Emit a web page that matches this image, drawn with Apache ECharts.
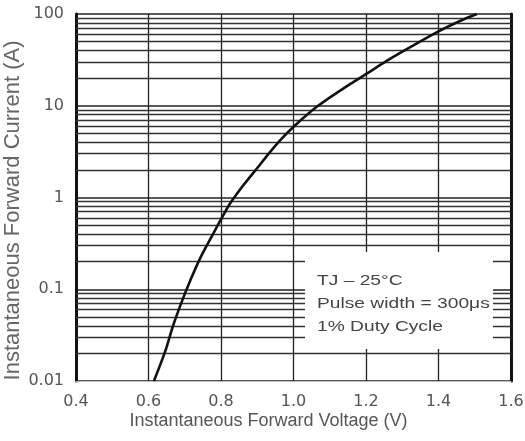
<!DOCTYPE html>
<html>
<head>
<meta charset="utf-8">
<script src="https://cdn.jsdelivr.net/npm/echarts@6/dist/echarts.min.js"></script>
<style>
	html,body{margin:0;padding:0;background:#fff;}
	#chart{width:525px;height:441px;}
</style>
</head>
<body>
<div id="chart"></div>
<script>
// curve
var voltage = [0.615, 0.646, 0.668, 0.695, 0.715, 0.742, 0.778, 0.806, 0.825, 0.861, 0.899, 0.930, 0.963, 1.004, 1.065, 1.137, 1.203, 1.258, 1.33, 1.40, 1.459, 1.506]
var current = [0.01, 0.021, 0.0403, 0.079, 0.124, 0.216, 0.40, 0.637, 0.86, 1.35, 2.07, 2.95, 4.2, 6.09, 9.8, 15.4, 22.5, 31, 45.3, 64.6, 84, 100]
var yTickLabels = {'0.01': '0.01', '0.1': '0.1', '1': '1', '10': '10', '100': '100'}
var decades = [0.01, 0.1, 1, 10]
var minorSteps = [2, 3, 4, 5, 6, 7, 8, 9]
var noteLines = ['TJ \u2013 25\u00b0C', 'Pulse width = 300\u03bcs', '1% Duty Cycle']

var chart = echarts.init(document.getElementById('chart'))

// minor log grid lines 2..9 per decade
var minorLines = []
for (var d of decades) {
	for (var s of minorSteps) {
		minorLines.push({yAxis: +(d * s).toPrecision(3)})
	}
}

var points = voltage.map(function (v, i) { return [v, current[i]] })

var textColor = '#555'
var font = 'Liberation Sans, Arial, sans-serif'
var tickFont = 'DejaVu Sans, sans-serif'

var option = {
	backgroundColor: '#fff',
	animation: false,
	grid: {left: 76, right: 14, top: 14, bottom: 60, outerBoundsMode: 'none', containLabel: false},
	xAxis: {
		type: 'value',
		min: 0.4,
		max: 1.6,
		interval: 0.2,
		name: 'Instantaneous Forward Voltage (V)',
		nameLocation: 'middle',
		nameGap: 31,
		nameMoveOverlap: false,
		nameTextStyle: {fontSize: 18, color: textColor, fontFamily: font, padding: [0, 50, 0, 0]},
		axisLine: {show: true, lineStyle: {color: '#bbb', width: 1}},
		axisTick: {show: false},
		axisLabel: {
			fontSize: 16, color: textColor, fontFamily: tickFont, margin: 13,
			formatter: function (v) { return v.toFixed(1) }
		},
		splitLine: {show: true, lineStyle: {color: '#222', width: 1.3}}
	},
	yAxis: [{
		type: 'log',
		logBase: 10,
		min: 0.01,
		max: 100,
		name: 'Instantaneous Forward Current (A)',
		nameLocation: 'middle',
		nameGap: 52,
		nameMoveOverlap: false,
		nameTextStyle: {fontSize: 22, color: '#666', fontFamily: font, padding: [0, 26, 0, 0]},
		axisLine: {show: true, lineStyle: {color: '#111', width: 3}},
		axisTick: {show: false},
		axisLabel: {
			fontSize: 16, color: textColor, fontFamily: tickFont, margin: 12,
			formatter: function (v) { return yTickLabels[String(+v.toPrecision(3))] || '' }
		},
		splitLine: {show: true, lineStyle: {color: '#222', width: 1.5}}
	}, {
		type: 'log',
		logBase: 10,
		min: 0.01,
		max: 100,
		position: 'right',
		axisLine: {show: true, lineStyle: {color: '#111', width: 3}},
		axisTick: {show: false},
		axisLabel: {show: false},
		splitLine: {show: false}
	}],
	series: [{
		type: 'line',
		data: points,
		smooth: 0.3,
		showSymbol: false,
		lineStyle: {color: '#111', width: 2.6},
		z: 5,
		markLine: {
			silent: true,
			symbol: 'none',
			label: {show: false},
			lineStyle: {color: '#333', width: 1.3, type: 'solid'},
			data: minorLines
		}
	}],
	graphic: [{
		type: 'rect',
		z: 100,
		shape: {x: 305, y: 252, width: 188, height: 97},
		style: {fill: '#fff'}
	}].concat(noteLines.map(function (t, i) {
		return {
			type: 'text',
			z: 101,
			x: 317,
			y: 273 + i * 23,
			scaleX: 1.28,
			style: {text: t, fontSize: 15, fill: '#444', fontFamily: font}
		}
	}))
}

chart.setOption(option)
</script>
</body>
</html>
